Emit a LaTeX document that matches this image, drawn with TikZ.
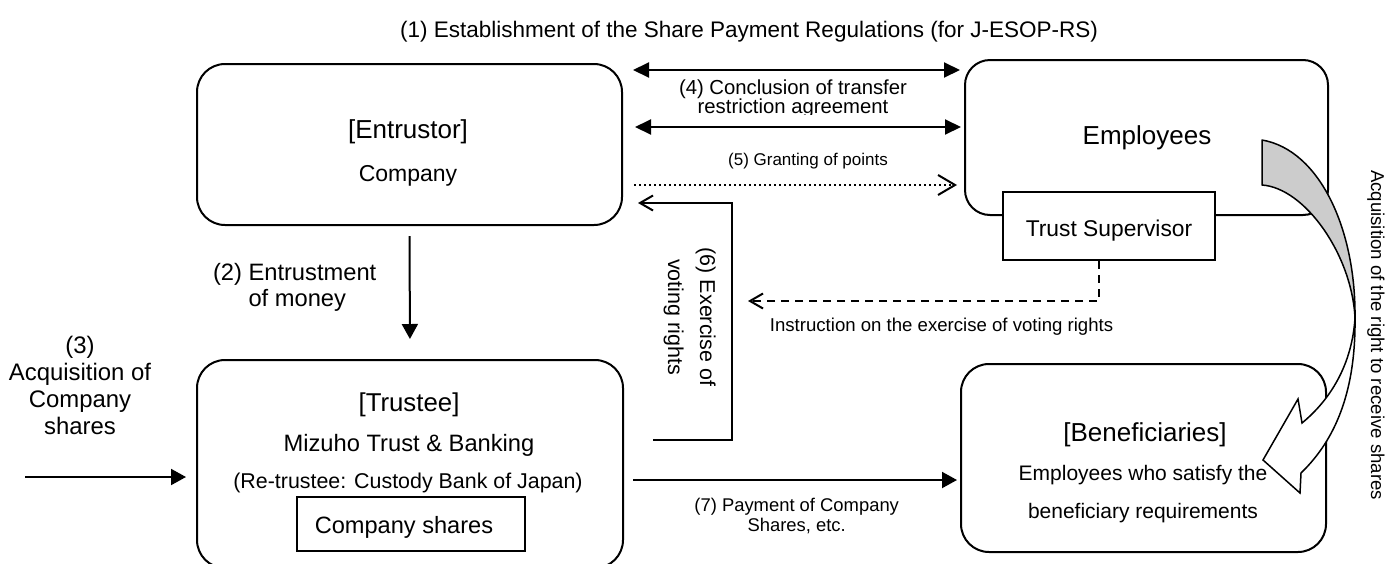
\documentclass[tikz,border=0pt]{standalone}
\usepackage{fontspec}
\setmainfont{Liberation Sans}
\usetikzlibrary{arrows.meta}
\definecolor{ribbon}{RGB}{204,204,204}
\newcommand{\fsz}[2]{\fontsize{#1pt}{#2pt}\selectfont}

\begin{document}
\begin{tikzpicture}[x=1pt, y=-1pt, line width=2pt,
  box/.style={draw, rounded corners=#1, line width=2pt, inner sep=0pt},
  box/.default=28pt,
  sqbox/.style={draw, fill=white, line width=2pt, inner sep=0pt},
  txt/.style={inner sep=0pt, anchor=base},
  solidtip/.style={-{Triangle[length=15pt,width=16pt]}},
  dbltip/.style={{Triangle[length=16pt,width=15pt]}-{Triangle[length=16pt,width=15pt]}},
  opentip/.style={-{Straight Barb[length=13pt,width=15pt,line width=2pt]}},
  bigopentip/.style={-{Straight Barb[length=17pt,width=20pt,line width=2pt]}},
  dotline/.style={dash pattern=on 2pt off 3pt},
  dashline/.style={dash pattern=on 8pt off 6pt}]

\useasboundingbox (0,0) rectangle (1398,563);
\clip (0,0) rectangle (1398,563);

% ---------- boxes ----------
\node[box, minimum width=425pt, minimum height=161pt] (ent) at (409.5,144.5) {};
\node[box=25pt, minimum width=363pt, minimum height=155pt] (emp) at (1146.5,137.5) {};
\node[sqbox, minimum width=212pt, minimum height=68pt] (sup) at (1109,226) {};
\node[box, minimum width=426pt, minimum height=208pt] (tru) at (410,464) {};
\node[box, minimum width=365pt, minimum height=188pt] (ben) at (1143.5,458) {};
\node[sqbox, minimum width=228pt, minimum height=54pt] (shr) at (411,524) {};

% ---------- box texts ----------
\node[txt, font=\fsz{26}{30}] (entA) at (408,138.3) {[Entrustor]};
\node[txt, font=\fsz{23}{27}] (entB) at (408,181.7) {Company};
\node[txt, font=\fsz{26}{30}] (empA) at (1147,144.3) {Employees};
\node[txt, font=\fsz{22.8}{27}] (supA) at (1109,236) {Trust Supervisor};
\node[txt, font=\fsz{25.8}{30}] (truA) at (409,411.7) {[Trustee]};
\node[txt, font=\fsz{23.7}{28}] (truB) at (409,451.7) {Mizuho Trust \& Banking};
\node[txt, font=\fsz{21.4}{26}] (truC) at (408,488.3) {(Re-trustee: Custody Bank of Japan)};
\node[txt, font=\fsz{23.6}{28}] (shrA) at (404,533.3) {Company shares};
\node[txt, font=\fsz{26}{30}] (benA) at (1145,441.7) {[Beneficiaries]};
\node[txt, font=\fsz{21}{25}] (benB) at (1143,480) {Employees who satisfy the};
\node[txt, font=\fsz{21}{25}] (benC) at (1143,518.3) {beneficiary requirements};

% ---------- title ----------
\node[txt, font=\fsz{22.5}{27}] (title) at (749,37.3)
  {(1) Establishment of the Share Payment Regulations (for J-ESOP-RS)};

% ---------- (4) agreement ----------
\draw[dbltip, shorten <=10pt, shorten >=4pt] (ent.east |- 0,70) -- (emp.west |- 0,70);
\draw[dbltip, shorten <=12pt, shorten >=3pt] (ent.east |- 0,127) -- (emp.west |- 0,127);
\node[txt, font=\fsz{20.3}{24}] (l4a) at (793,94) {(4) Conclusion of transfer};
\begin{scope}
  % the label's text frame cuts off the descenders of its second line
  \clip (660,96) rectangle (930,114.5);
  \node[txt, font=\fsz{20.3}{24}] (l4b) at (793,113.3) {restriction agreement};
\end{scope}

% ---------- (5) points ----------
\draw[dotline, bigopentip, shorten <=11pt, shorten >=7pt] (ent.east |- 0,185) -- (emp.west |- 0,185);
\node[txt, font=\fsz{17}{21}] (l5) at (808,165) {(5) Granting of points};

% ---------- (6) voting rights ----------
\draw[opentip, shorten <=29pt, shorten >=15pt] (tru.east |- 0,440) -| (732,203) -- (ent.east |- 0,203);
\node[txt, rotate=-90, font=\fsz{21.5}{26}] (l6a) at (700,317) {(6) Exercise of};
\node[txt, rotate=-90, font=\fsz{21.5}{26}] (l6b) at (668,317) {voting rights};

% ---------- instruction ----------
\coordinate (instr) at (748,301);
\draw[dashline, opentip] ([xshift=-10pt]sup.south) |- (instr);
\node[txt, font=\fsz{18.6}{22}] (lins) at (941.5,331.7) {Instruction on the exercise of voting rights};

% ---------- (2) money ----------
\draw[solidtip, shorten <=10pt, shorten >=20pt] (ent.south) -- (tru.north);
\node[txt, anchor=base west, font=\fsz{23.7}{28}] (l2a) at (212,280) {(2) Entrustment};
\node[txt, anchor=base west, font=\fsz{23.7}{28}] (l2b) at (247.5,306.7) {of money};

% ---------- (3) acquisition ----------
\coordinate (src3) at (25,477);
\draw[solidtip, shorten >=10pt] (src3) -- (src3 -| tru.west);
\node[txt, font=\fsz{23.9}{28}] (l3a) at (80,353.3) {(3)};
\node[txt, font=\fsz{23.9}{28}] (l3b) at (80,380.5) {Acquisition of};
\node[txt, font=\fsz{23.9}{28}] (l3c) at (80,407.7) {Company};
\node[txt, font=\fsz{23.9}{28}] (l3d) at (80,434.9) {shares};

% ---------- (7) payment ----------
\draw[solidtip, shorten <=9pt, shorten >=3pt] (tru.east |- 0,480) -- (ben.west |- 0,480);
\node[txt, font=\fsz{18.4}{22}] (l7a) at (796.7,511.7) {(7) Payment of Company};
\node[txt, font=\fsz{18.4}{22}] (l7b) at (796.7,531.7) {Shares, etc.};

% ---------- twisted ribbon arrow ----------
\filldraw[fill=ribbon, line width=1.5pt, line join=round]
  (1262,140) .. controls (1320,150) and (1356,230) .. (1355,318)
  .. controls (1352,255) and (1305,188) .. (1262,185) -- cycle;
\filldraw[fill=white, line width=1.5pt, line join=miter]
  (1355,318) .. controls (1356,400) and (1330,445) .. (1301,473)
  -- (1300,493) -- (1263,460) -- (1298,399) -- (1302,423)
  .. controls (1330,400) and (1352,365) .. (1355,318) -- cycle;
\node[txt, rotate=-90, font=\fsz{18.6}{22}] (lacq) at (1371,335)
  {Acquisition of the right to receive shares};
\end{tikzpicture}
\end{document}
